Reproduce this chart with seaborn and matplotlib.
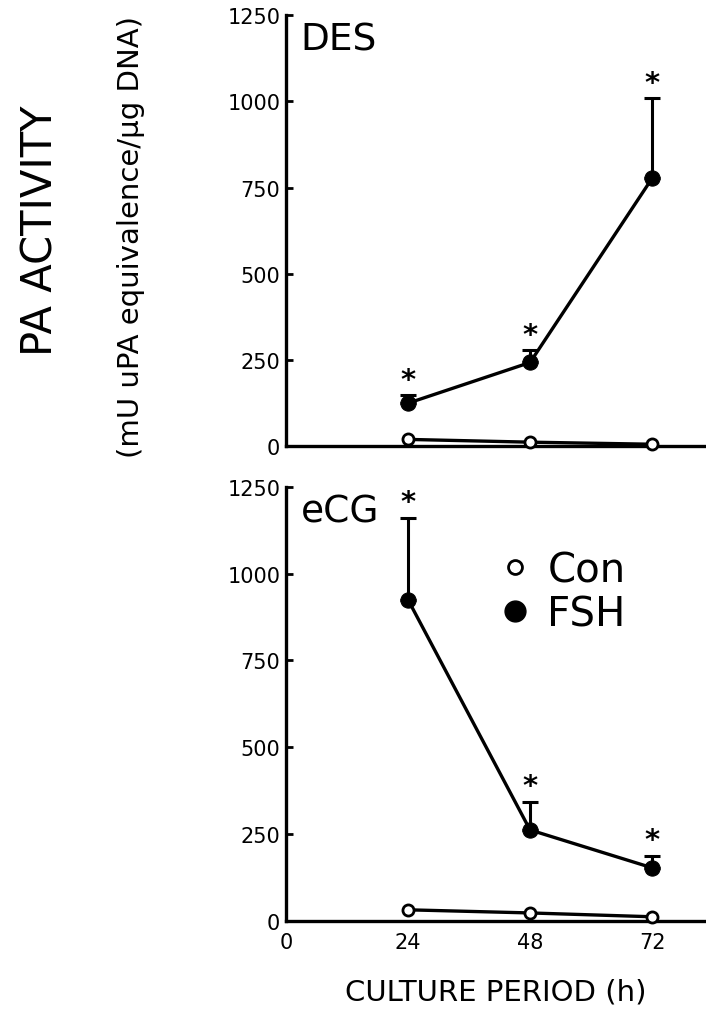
import numpy as np
import pandas as pd
import seaborn as sns
import matplotlib.pyplot as plt
from matplotlib.lines import Line2D

# data
hours = [24, 48, 72]
des_fsh = [125, 243, 777]
des_fsh_err = [23, 35, 232]
des_con = [20, 12, 6]
ecg_fsh = [925, 262, 153]
ecg_fsh_err = [236, 81, 34]
ecg_con = [32, 23, 12]
panel_names = ["DES", "eCG"]
y_ticks = [0, 250, 500, 750, 1000, 1250]
x_ticks = [0, 24, 48, 72]

sns.set_style("ticks")
plt.rcParams['font.family'] = ['DejaVu Sans']
for key in ["text.color", "axes.labelcolor", "xtick.color", "ytick.color",
            "axes.edgecolor"]:
    plt.rcParams[key] = "black"

fig = plt.figure(figsize=(7.06, 10.12), dpi=100)
ax_top = fig.add_axes([0.405, 0.558, 0.595, 0.426])
ax_bot = fig.add_axes([0.405, 0.089, 0.595, 0.429])

panels = [
    (ax_top, panel_names[0], des_fsh, des_fsh_err, des_con),
    (ax_bot, panel_names[1], ecg_fsh, ecg_fsh_err, ecg_con),
]

for ax, name, fsh, fsh_err, con in panels:
    df = pd.DataFrame({
        "hour": hours * 2,
        "value": fsh + con,
        "group": ["FSH"] * 3 + ["Con"] * 3,
    })
    # error bars (upper only) for FSH
    ax.errorbar(hours, fsh, yerr=[np.zeros(3), fsh_err], fmt="none",
                ecolor="black", elinewidth=2.2, capsize=6, capthick=2.2,
                zorder=2, clip_on=False)
    sns.lineplot(data=df[df.group == "FSH"], x="hour", y="value", ax=ax,
                 color="black", lw=2.4, marker="o", markersize=11,
                 markerfacecolor="black", markeredgecolor="black",
                 legend=False, zorder=3, clip_on=False)
    sns.lineplot(data=df[df.group == "Con"], x="hour", y="value", ax=ax,
                 color="black", lw=2.4, marker="o", markersize=8,
                 markerfacecolor="white", markeredgecolor="black",
                 markeredgewidth=2, legend=False, zorder=4, clip_on=False)
    for h, v, e in zip(hours, fsh, fsh_err):
        ax.text(h, v + e + 5, "*", ha="center", va="bottom",
                fontsize=21, fontweight="bold")

    ax.set_xlim(0, 82.6)
    ax.set_ylim(0, 1250)
    ax.set_yticks(y_ticks)
    ax.set_yticklabels([str(t) for t in y_ticks], fontsize=15)
    ax.set_xticks(x_ticks)
    ax.tick_params(axis="y", direction="in", length=5, width=2, pad=4)
    ax.tick_params(axis="x", length=0, pad=8, labelsize=15)
    sns.despine(ax=ax)
    for sp in ["left", "bottom"]:
        ax.spines[sp].set_linewidth(2.4)
    ax.set_xlabel("")
    ax.set_ylabel("")
    ax.text(0.035, 0.985, name, transform=ax.transAxes, ha="left", va="top",
            fontsize=27)

ax_top.set_xticklabels([])

handles = [
    Line2D([], [], ls="none", marker="o", markersize=10, markerfacecolor="white",
           markeredgecolor="black", markeredgewidth=2, label="Con"),
    Line2D([], [], ls="none", marker="o", markersize=15, markerfacecolor="black",
           markeredgecolor="black", label="FSH"),
]
ax_bot.legend(handles=handles, loc="upper left", bbox_to_anchor=(0.45, 0.90),
              frameon=False, fontsize=29, handletextpad=0.3, labelspacing=0.1,
              handlelength=1.0, borderpad=0)

ax_bot.set_xlabel("CULTURE PERIOD (h)", fontsize=21, labelpad=18)

fig.text(0.057, 0.772, "PA ACTIVITY", rotation=90, ha="center", va="center",
         fontsize=30)
fig.text(0.185, 0.766, "(mU uPA equivalence/\u00b5g DNA)", rotation=90,
         ha="center", va="center", fontsize=21)

plt.savefig("out.png", dpi=100)
